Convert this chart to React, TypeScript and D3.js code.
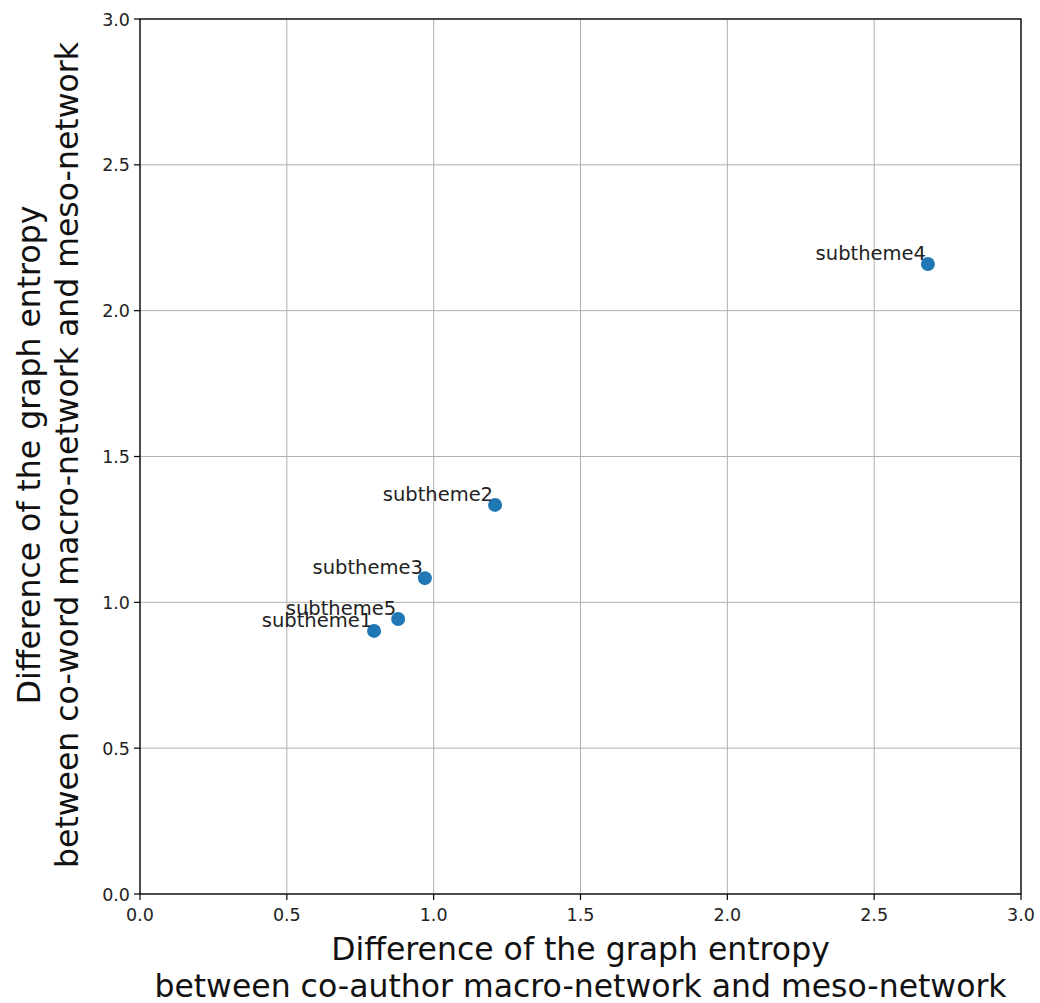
import React from "react";
import * as d3 from "d3";

const labels = ["subtheme1", "subtheme2", "subtheme3", "subtheme4", "subtheme5"];
const xValues = [0.797, 1.209, 0.970, 2.683, 0.879];
const yValues = [0.902, 1.334, 1.083, 2.160, 0.943];
const ticks = [0, 0.5, 1.0, 1.5, 2.0, 2.5, 3.0];
const xLabelLines = ["Difference of the graph entropy", "between co-author macro-network and meso-network"];
const yLabelLines = ["Difference of the graph entropy", "between co-word macro-network and meso-network"];

export default function App() {
  const W = 1040, H = 1003;
  const L = 140, R = 1021, T = 19, B = 894;
  const x = d3.scaleLinear().domain([0, 3]).range([L, R]);
  const y = d3.scaleLinear().domain([0, 3]).range([B, T]);
  const font = "DejaVu Sans, sans-serif";
  return (
    <svg width={W} height={H} style={{ position: "absolute", left: 0, top: 0 }} fontFamily={font}>
      <rect width={W} height={H} fill="white" />
      {ticks.map((t) => (
        <g key={"g" + t}>
          <line x1={x(t)} x2={x(t)} y1={T} y2={B} stroke="#b0b0b0" strokeWidth={1} />
          <line x1={L} x2={R} y1={y(t)} y2={y(t)} stroke="#b0b0b0" strokeWidth={1} />
        </g>
      ))}
      <rect x={L} y={T} width={R - L} height={B - T} fill="none" stroke="black" strokeWidth={1.3} />
      {ticks.map((t) => (
        <g key={"t" + t}>
          <line x1={x(t)} x2={x(t)} y1={B} y2={B + 6} stroke="black" strokeWidth={1.2} />
          <text x={x(t)} y={B + 27} textAnchor="middle" fontSize={17.5} fill="#222">{t.toFixed(1)}</text>
          <line x1={L - 6} x2={L} y1={y(t)} y2={y(t)} stroke="black" strokeWidth={1.2} />
          <text x={L - 10} y={y(t) + 6.5} textAnchor="end" fontSize={17.5} fill="#222">{t.toFixed(1)}</text>
        </g>
      ))}
      {labels.map((lab, i) => (
        <g key={lab}>
          <circle cx={x(xValues[i])} cy={y(yValues[i])} r={7} fill="#1f77b4" />
          <text x={x(xValues[i]) - 2} y={y(yValues[i]) - 4} textAnchor="end" fontSize={19.5} fill="#222">{lab}</text>
        </g>
      ))}
      {xLabelLines.map((s, i) => (
        <text key={s} x={(L + R) / 2} y={960 + i * 37} textAnchor="middle" fontSize={31.5} fill="#111">{s}</text>
      ))}
      {yLabelLines.map((s, i) => (
        <text key={s} transform={`translate(${40 + i * 38},${455}) rotate(-90)`} textAnchor="middle" fontSize={31.5} fill="#111">{s}</text>
      ))}
    </svg>
  );
}
